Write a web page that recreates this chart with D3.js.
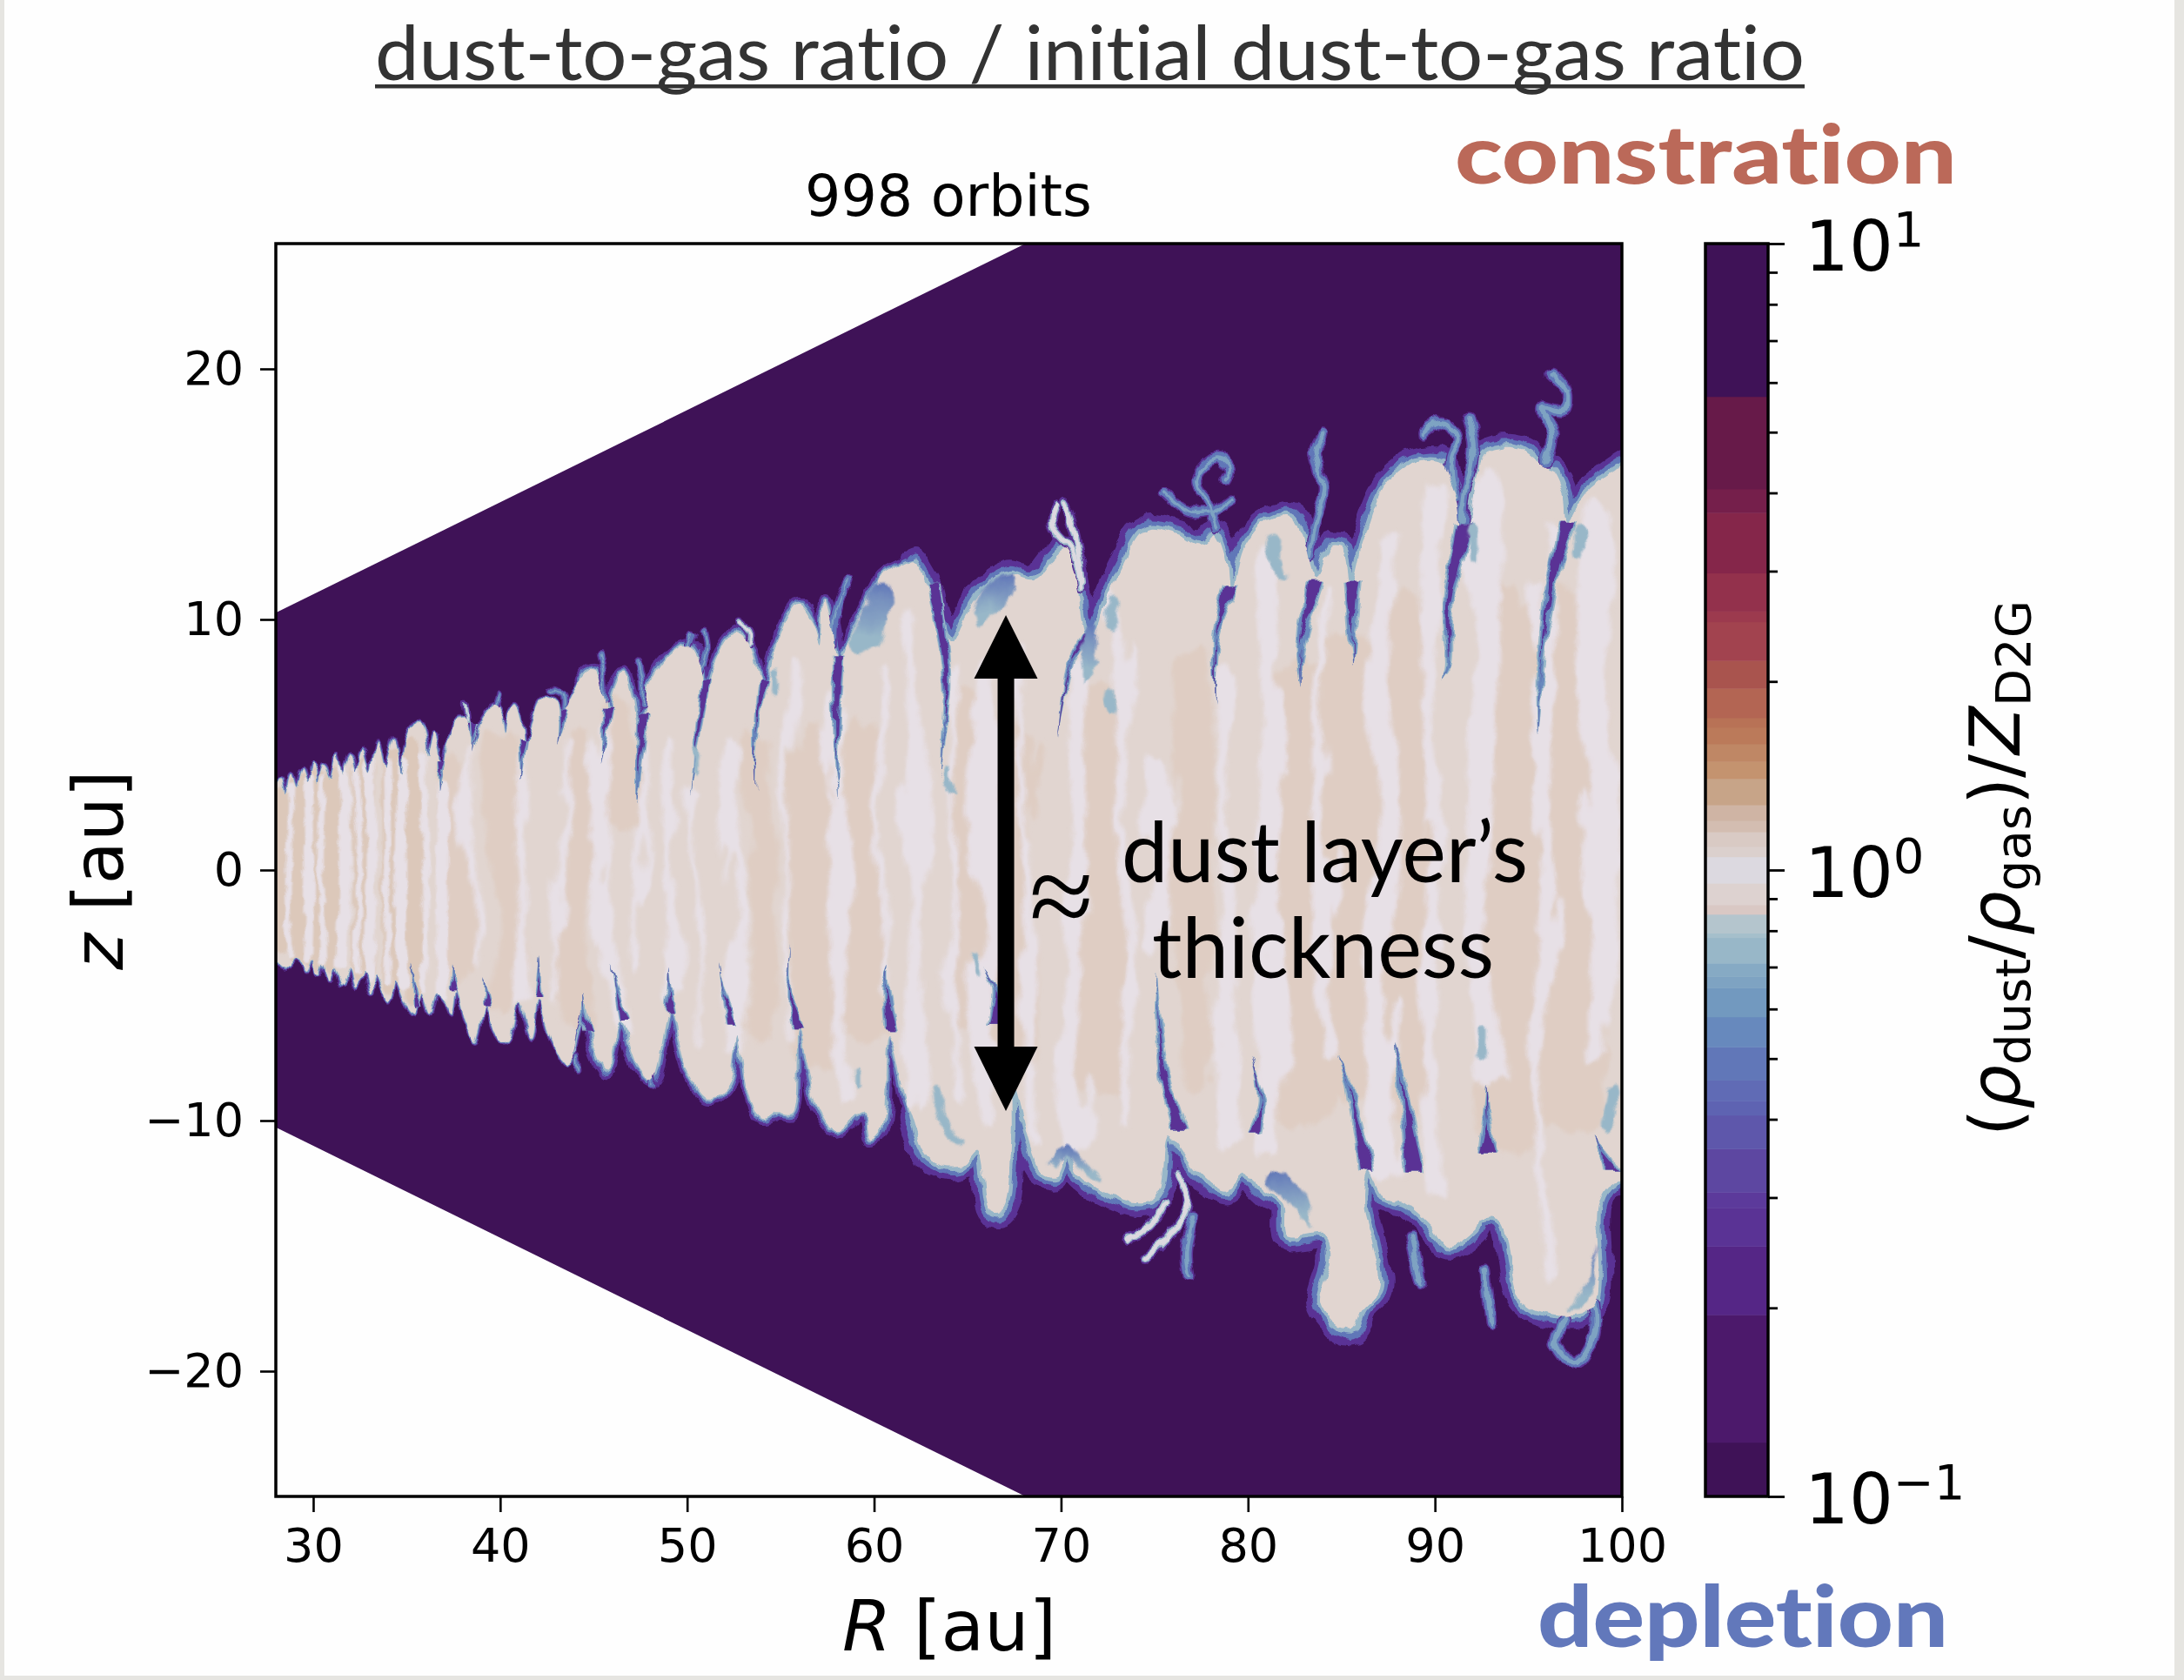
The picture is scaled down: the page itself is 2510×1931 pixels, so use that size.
<!DOCTYPE html>
<html>
<head>
<meta charset="utf-8">
<script src="https://cdnjs.cloudflare.com/ajax/libs/d3/7.8.5/d3.min.js"></script>
<style>
  html, body { margin: 0; padding: 0; background: #e6e5e1; }
  svg { display: block; }
  .axis text { font-family: "DejaVu Sans"; fill: #000; }
</style>
</head>
<body>
<div class="chart"></div>
<script>
// ************************DATA************************************************

const xTicks = [30, 40, 50, 60, 70, 80, 90, 100]
const yTicks = [-20, -10, 0, 10, 20]
const cbarMajor = [0.1, 1, 10]
const cbarMinor = [0.2, 0.3, 0.4, 0.5, 0.6, 0.7, 0.8, 0.9, 2, 3, 4, 5, 6, 7, 8, 9]

// colorbar steps, value where each band starts going up from 0.1
const bandStarts = [0.1, 0.122, 0.195, 0.251, 0.289, 0.306, 0.359, 0.406, 0.428, 0.462, 0.522, 0.583, 0.649, 0.676, 0.71, 0.78, 0.793, 0.85, 0.88, 0.953, 1.05, 1.09, 1.15, 1.2, 1.27, 1.4, 1.49, 1.59, 1.69, 1.75, 1.95, 2.16, 2.49, 2.59, 2.98, 3.72, 4.06, 5.7]
const bandColors = ["#3f1257", "#4c196b", "#552686", "#5a3395", "#5c3a9b", "#5d47a1", "#5e57ab", "#5e63b2", "#606bb5", "#6177b8", "#6789bd", "#7299bf", "#7ea3c2", "#86aac4", "#98b7c8", "#a5bfcb", "#b4c5cd", "#d9c8c4", "#ddd2d0", "#dcd9e0", "#dbd0cd", "#d9cac4", "#d3bdb1", "#cfb4a4", "#c7a488", "#c4936f", "#bf8765", "#bb7a5a", "#b87256", "#b36553", "#a9544e", "#a2434f", "#9c3a4e", "#93314c", "#85264a", "#751f4b", "#671a49", "#3f1257"]

// outline of the simulated wedge [R, z]
const wedgeTop = [[28, 10.27], [68.1, 25], [100, 25]]
const wedgeBottom = [[28, -10.27], [68.1, -25], [100, -25]]

// top edge of the dust layer, left to right [R, z]
const upperEdge = [[27,3.5],[28.05,3.5],[28.3,3.65],[28.5,3.0],[28.8,3.85],[29.1,3.3],[29.4,4.0],[29.7,3.4],[30,4.2],[30.2,3.5],[30.5,4.2],[30.9,3.6],[31.25,4.55],[31.6,3.7],[32,4.6],[32.25,3.8],[32.6,4.8],[33,3.9],[33.45,5.1],[33.85,4.0],[34.35,5.3],[34.7,3.8],[35.05,5.3],[35.65,5.95],[36,5.2],[36.1,4.6],[36.47,5.45],[36.7,4.8],[36.85,3.4],[37.2,4.9],[37.7,5.9],[38.1,6.0],[38.55,5.0],[39,6.0],[39.6,6.6],[40,6.4],[40.3,5.5],[40.55,6.3],[40.8,6.6],[41.1,6.0],[41.35,4.7],[41.7,5.9],[42.4,6.9],[43,6.7],[43.25,5.5],[43.7,6.7],[44.4,7.6],[45,8.0],[45.5,7.1],[45.8,5.9],[46.1,7.2],[46.6,7.9],[47,7.2],[47.5,5.6],[48,7.3],[48.9,8.4],[50,8.95],[50.6,8.4],[50.9,6.8],[51.4,8],[52.1,9.1],[52.7,9.6],[53.4,8.8],[54.1,7.2],[54.6,8.5],[55.5,10.2],[56,10.6],[56.7,9.9],[57.15,9.0],[57.35,10.7],[57.7,9.9],[58.15,8.4],[58.6,9.1],[59.5,10.4],[60.4,11.7],[61.3,12.1],[62.15,12.3],[62.9,11.3],[63.4,9.9],[64.2,9.1],[64.8,9.9],[65.9,11.2],[67.2,11.8],[68.5,11.6],[69.5,12.4],[70.2,12.8],[70.9,11.2],[71.1,9.9],[71.5,9.1],[72.25,10.4],[73.26,12.2],[74.5,13.6],[76.3,13.4],[77.55,13],[78.2,13.4],[78.8,12.5],[79.1,10.8],[79.8,12.9],[81.1,14.0],[82.35,14.1],[83.1,12.9],[83.6,11.6],[84.4,12.9],[85.1,12.8],[85.5,11.3],[86.1,12.9],[87.4,15.4],[89.0,16.3],[90.3,16.3],[90.8,15.5],[91.1,14.85],[91.5,13.3],[91.9,14.0],[92.7,16.6],[94.5,16.8],[95.7,16.2],[96.3,15.9],[96.9,14.9],[97.1,13.9],[98,15],[99.5,15.9],[101,16.6]]

// bottom edge of the dust layer, left to right [R, z]
const lowerEdge = [[27,-3.6],[28.05,-3.6],[28.3,-3.8],[28.67,-3.85],[29.1,-3.5],[29.7,-4.15],[30,-3.6],[30.3,-4.15],[30.55,-3.7],[30.9,-4.4],[31.2,-3.9],[31.6,-4.6],[31.95,-4],[32.3,-4.66],[32.7,-4.05],[33.1,-4.9],[33.4,-4.2],[34,-5.2],[34.35,-4.4],[34.9,-5.3],[35.4,-5.7],[35.8,-4.9],[36.2,-5.8],[36.6,-4.95],[37,-5.2],[37.4,-5.75],[37.66,-4.8],[38.2,-6.1],[38.7,-6.8],[39.3,-5.4],[39.8,-6.4],[40.4,-6.9],[41,-5.3],[41.6,-6.8],[42,-5.2],[42.8,-6.9],[43.6,-7.8],[44.56,-5.3],[45.1,-7.2],[45.75,-8],[46.4,-6],[47.2,-7.6],[48.1,-8.4],[49.1,-5.6],[50,-8],[51.2,-9.1],[52.2,-8.6],[52.7,-6.6],[53.3,-8.9],[54.1,-9.96],[54.85,-9.7],[55.6,-9.7],[55.95,-6.4],[57.03,-9.6],[57.96,-10.42],[59.36,-9.7],[59.8,-10.8],[60.4,-10.4],[60.85,-6.6],[62,-9.9],[62.93,-11.5],[64.63,-11.8],[65.57,-11.2],[66.2,-13.6],[66.7,-13.7],[67.1,-13.2],[67.35,-10.6],[67.45,-8.6],[68.83,-11.9],[69.76,-12.2],[70.4,-11.3],[71,-12.2],[72.25,-12.8],[74,-13.3],[74.8,-13.2],[75.4,-12.6],[75.79,-10.6],[77.3,-12],[78.8,-12.8],[79.8,-12.2],[80.84,-12.8],[81.85,-13.3],[82.1,-14.6],[84.12,-14.6],[84.37,-15.55],[83.87,-17.3],[85,-18.3],[85.64,-18.34],[86.14,-17.54],[87.02,-16.74],[86.65,-14.88],[86.14,-13.3],[86.4,-12],[87.3,-13.1],[88.41,-13.3],[89.7,-14.1],[90.7,-15],[92.2,-14.35],[92.45,-13.95],[93.46,-14.0],[94.7,-17.27],[97,-17.8],[98.5,-17.4],[98.77,-13.3],[99.5,-12.5],[101,-12.5]]

// thin depleted fingers, root on the edge to tip inside the layer [R, z]
const fingers = [
  [[36.83,4.3],[36.75,3.6],[36.7,3.1]],
  [[38.6,5.9],[38.5,5.3],[38.4,4.7]],
  [[41.2,5.2],[41.15,4.4],[41.1,3.65]],
  [[43.4,6.3],[43.25,5.6],[43.1,5]],
  [[45.75,6.4],[45.6,5.3],[45.4,4.3]],
  [[47.65,6.2],[47.4,3.65],[47.3,2.7]],
  [[51,7.6],[50.6,5.5],[50.4,4.2],[50.15,3]],
  [[54.07,7.6],[53.7,5.5],[53.7,3.1]],
  [[58.1,8.56],[58,6.2],[58,4.2],[58.1,2.85]],
  [[63.2,11.5],[63.9,7.5],[63.7,5.55],[63.5,3.7]],
  [[71.5,9.4],[70.5,8.2],[69.85,5.3]],
  [[79.07,11.3],[78.3,9.3],[78.3,6.6]],
  [[83.6,11.5],[82.85,8.9],[82.85,7.4]],
  [[85.6,11.5],[85.6,9.5],[85.6,8.2]],
  [[91.6,13.8],[90.7,10.5],[90.7,8.1],[90.3,7.5]],
  [[97.1,13.9],[96.2,11.3],[95.6,7.5],[95.5,5.4]],
  [[35.6,-5.5],[35.4,-4.5],[35.3,-3.66]],
  [[37.5,-4.8],[37.45,-4.2],[37.4,-3.8]],
  [[39.3,-5.4],[39.2,-4.8],[39.1,-4.2]],
  [[42.06,-5.1],[42.06,-4.2],[42.06,-3.4]],
  [[44.7,-6.45],[44.5,-5.6],[44.4,-4.9]],
  [[46.7,-6],[46.3,-4.8],[46,-3.7]],
  [[49.1,-5.7],[49.05,-4.7],[49,-3.8]],
  [[52.4,-6.2],[52,-4.9],[51.7,-3.65]],
  [[55.9,-6.4],[55.6,-5.2],[55.5,-4.4],[55.6,-2.9]],
  [[60.9,-6.4],[60.6,-4.5],[60.75,-3.8]],
  [[66.5,-6.1],[66.5,-4.75],[65.9,-3.9]],
  [[76.3,-10.4],[75.5,-8],[75.15,-5.3],[75.15,-4.1]],
  [[80.3,-10.5],[80.7,-9.2],[80.1,-7.4]],
  [[86.4,-12],[85.4,-8.6],[84.75,-7.4]],
  [[88.9,-12],[88.2,-8.2],[87.9,-6.9]],
  [[92.8,-11.3],[92.75,-10],[92.7,-8.6]],
  [[99.5,-12],[99,-11.2],[98.5,-10.6]]
]

// wisps sticking out of the layer into the depleted gas [R, z]
const blueWisps = [
  [[58.6,11.6],[58.2,10.95],[57.9,10.15],[57.8,9]],
  [[50.86,9.5],[51,8.7],[50.6,7.9]],
  [[50.3,9.4],[50,8.7]],
  [[45.3,8.56],[45.5,7.9],[45.6,6.8]],
  [[47.4,8.3],[47.65,7.5],[47.6,6.6]],
  [[42.65,7.2],[43.4,7],[43.4,6]],
  [[39.9,6.97],[39.7,6.5]],
  [[75.5,15.1],[76.8,14.3],[77.8,14.3]],
  [[78.8,15.6],[79,16],[78.3,16.45],[77.3,15.65],[77.9,14.45],[78.3,13.65]],
  [[79,14.8],[78.05,14.3]],
  [[84,17.4],[83.6,16.7],[83.85,15.9],[84.1,15.25],[83.6,13.9],[83.3,12.5]],
  [[89.3,17.4],[90.4,17.9],[91.2,17.25],[90.8,16.3],[91.07,14.85]],
  [[91.8,18],[92.1,16.85],[91.6,15.1],[91.45,13.9]],
  [[96.25,19.8],[97.1,19],[96.85,18.3],[95.75,18.4],[96.25,17.4],[96,16.3]],
  [[77.05,-13.8],[76.67,-15.3],[76.8,-16.2]],
  [[88.7,-14.6],[89.2,-16.5]],
  [[92.7,-15.95],[93,-18.1]],
  [[44.1,-7.4],[44.2,-8]],
  [[48.1,-7.9],[48.1,-8.6]],
  [[96.5,-18.9],[97.5,-19.7],[98.5,-18.6],[98.5,-17.3]],
  [[96.4,-18.9],[96.9,-17.9]]
]
const paleWisps = [
  [[52.76,9.96],[53.35,9.6],[53.35,8.96]],
  [[38.14,6.57],[38.25,5.9]],
  [[69.73,14.58],[69.5,13.8],[70.7,12.6],[71.1,11.26]],
  [[70.2,14.7],[70.75,13.4],[71.2,11.5]],
  [[76.3,-12.2],[76.8,-13.3],[75.8,-14.6],[74.5,-15.55]],
  [[75.5,-13.3],[74.8,-14.1],[73.5,-14.75]]
]

// pale blue blobs inside the layer [R, z]
const blobs = [
  [[72.7,10.8],[72.7,9.7]],
  [[72.6,7],[72.8,6.4]],
  [[81.3,13],[81.9,11.8]],
  [[92,13.6],[92,12.4]],
  [[97.9,13.4],[97.6,12.6]],
  [[92.6,-6.4],[92.6,-7.4]],
  [[99.6,-8.8],[99.2,-10.2]],
  [[64,4],[64,3.2]],
  [[50.5,4.8],[50.5,3.9]],
  [[54.7,8],[54.6,7.1]],
  [[63.4,-8.8],[63.8,-10.1],[64.4,-10.8]],
  [[59.2,-8.2],[59.2,-8.6]],
  [[65.4,-3.5],[65.6,-4.2]]
]

// bluish areas on the edge of the big lobes, polygons [R, z]
const edgePatches = [
  [[58.6,9.0],[59.5,10.3],[60.4,11.5],[60.9,11.2],[60.6,9.6],[60.2,8.9],[59.3,8.6]],
  [[65.3,10.3],[65.9,11.2],[67.2,11.8],[67.3,11.2],[66.4,10.1],[65.6,9.7]],
  [[71.2,9.5],[71.8,9.9],[72,8.8],[71.6,7.6],[71,7.5]],
  [[83.3,-14.3],[82.3,-13.4],[81,-12.5],[81.4,-12],[82.4,-12.4],[83.4,-13.4]],
  [[69.3,-11.7],[70.4,-10.9],[71.2,-11.6],[72.2,-12.4],[71,-12],[70.4,-11.4],[69.8,-12]],
  [[97,-17.6],[98.4,-17],[98.6,-15],[98.2,-16.4],[97.4,-17]]
]

// lighter lavender streaks, top to bottom [R, z]
const paleStreaks = [
  [[28.8,3.4],[28.7,0],[28.8,-3.4]], [[29.7,3.6],[29.8,0],[29.7,-3.6]], [[30.5,3.7],[30.4,0],[30.55,-3.6]],
  [[31.6,3.9],[31.7,0],[31.5,-3.8]], [[32.3,4],[32.4,0],[32.3,-4]], [[33,4.2],[33.1,0],[33,-4.2]],
  [[33.9,4.3],[34,0],[33.9,-4.4]], [[34.8,4.4],[34.7,0],[34.8,-4.6]], [[35.9,4.6],[36,0],[35.9,-4.8]], [[36.9,3.4],[36.9,0],[36.9,-5]],
  [[38.5,5],[38.4,2],[38.6,-1],[38.4,-4]], [[41.2,5],[41,2],[41.3,-1],[41.1,-5]], [[43.3,5],[43,1],[43.3,-2],[43,-5]],
  [[45.6,6],[45.3,3],[45.6,-1],[46,-4],[46.4,-6]], [[47.5,5],[47.2,2],[47.6,-1],[47.4,-4]], [[49.1,5],[49,1],[49.2,-2],[49,-5]],
  [[50.5,3],[50.3,0],[50.6,-3],[50.8,-7]], [[52.6,5],[52.2,2],[52.5,-1],[52.3,-4],[52.6,-7]], [[55.6,8],[55.3,4],[55.7,0],[55.4,-3],[56,-7]],
  [[58,7],[57.7,3],[58.2,-1],[57.9,-4],[58.4,-9]], [[60.7,8],[60.3,3],[60.7,-1],[60.5,-5]], [[62.2,10],[62,5],[62.4,0],[62,-5],[62.2,-9]],
  [[64.2,8],[64,3],[64.4,-1],[64.2,-5],[64.6,-9]], [[66.2,8],[65.9,3],[66.2,-2],[65.9,-5],[66.4,-10]], [[68.3,9],[68,4],[68.4,-1],[68,-6],[68.6,-11]],
  [[71,8],[70.6,4],[71,0],[70.6,-5],[71,-11]], [[73,11],[73.4,5],[73.1,0],[73.5,-5],[73.4,-10]], [[75.2,4],[75.5,0],[75,-3]],
  [[79,8],[78.6,3],[79,-2],[78.6,-6],[79,-11]], [[81,12],[81.3,5],[81,0],[81.4,-5],[81,-11]], [[84.3,11],[84,4],[84.4,-2],[84,-7]],
  [[87.4,13],[87,6],[87.4,0],[87,-6],[87.4,-12]], [[90,15],[89.6,8],[90,2],[89.6,-4],[90,-13]], [[92.5,15],[92.8,8],[92.4,0],[92.8,-8]],
  [[96,13],[95.6,5],[96,-2],[95.6,-8],[96,-16]], [[99,14],[98.6,6],[99,0],[98.6,-7]]
]

// warmer tan streaks in the lobe cores [R, z]
const warmStreaks = [
  [[28.3,3],[28.3,0],[28.3,-3]], [[29.25,3.4],[29.2,0],[29.25,-3.4]], [[30.1,3.6],[30.1,0],[30.1,-3.6]], [[31.1,3.8],[31.1,0],[31.1,-3.8]],
  [[32.7,4],[32.7,0],[32.7,-4]], [[34.3,4.4],[34.35,0],[34.3,-4.4]], [[35.3,5],[35.3,0],[35.3,-5]],
  [[37.6,4],[37.8,0],[37.6,-4]], [[40,5],[40.2,0],[40,-5]], [[41,0],[41.1,-2],[41.2,-3.8]], [[44.1,5],[44.2,0],[44.3,-6]],
  [[46.2,6.4],[46.3,4.5],[46.5,2]], [[53.8,5],[54,0],[53.8,-6]], [[56.8,5],[57,0],[57,-7]], [[59.5,5],[59.3,0],[59.6,-6]],
  [[65.1,7],[65.2,0],[65,-6]], [[67.5,5],[67.2,0],[67.4,-7]], [[72,6],[72,0],[72,-8]], [[77,8],[77,0],[77.2,-8]],
  [[83,7],[83,0],[83,-9]], [[85.8,8],[86,0],[85.7,-8]], [[88.5,10],[88.6,0],[88.5,-9]], [[94,10],[94.2,0],[94,-10]], [[97.5,10],[97.5,0],[97.5,-9]]
]

// the double arrow: R, top z, bottom z
const arrowR = 67.05
const arrowZ = [10.17, -9.62]

// ************************SETUP*************************

const width = 2510
const height = 1931

const xScale = d3.scaleLinear().domain([28, 100]).range([317, 1864])
const yScale = d3.scaleLinear().domain([-25, 25]).range([1720, 280])
const cScale = d3.scaleLog().domain([0.1, 10]).range([1720, 280])

// same steps as the colorbar, used for the field too
const fieldColor = d3.scaleThreshold().domain(bandStarts.slice(1)).range(bandColors)

const smooth = d3.line()
  .x((d) => xScale(d[0]))
  .y((d) => yScale(d[1]))
  .curve(d3.curveCatmullRom.alpha(0.5))
const straight = d3.line()
  .x((d) => xScale(d[0]))
  .y((d) => yScale(d[1]))

const svg = d3.select(".chart")
  .append("svg")
  .attr("width", width)
  .attr("height", height)

// white slide on the grey page
svg.append("rect").attr("x", 5).attr("y", 0)
  .attr("width", 2494).attr("height", 1926).attr("fill", "#fefefe")

const defs = svg.append("defs")
defs.append("clipPath").attr("id", "plotClip")
  .append("rect").attr("x", xScale(28)).attr("y", yScale(25))
  .attr("width", xScale(100) - xScale(28)).attr("height", yScale(-25) - yScale(25))
const layerOutline = upperEdge.concat(lowerEdge.slice().reverse())
defs.append("clipPath").attr("id", "layerClip")
  .append("path").attr("d", smooth(layerOutline) + "Z")

// wavy look of the flow, stretched along z
const wavy = (id, freq, amount, blur) => {
  const f = defs.append("filter").attr("id", id)
    .attr("filterUnits", "userSpaceOnUse")
    .attr("x", 250).attr("y", 200).attr("width", 1700).attr("height", 1600)
  f.append("feTurbulence").attr("type", "fractalNoise")
    .attr("baseFrequency", freq).attr("numOctaves", 3).attr("seed", 7).attr("result", "n")
  f.append("feDisplacementMap").attr("in", "SourceGraphic").attr("in2", "n")
    .attr("scale", amount).attr("xChannelSelector", "R").attr("yChannelSelector", "G")
    .attr("result", "d")
  f.append("feGaussianBlur").attr("in", "d").attr("stdDeviation", blur)
}
wavy("flow", "0.03 0.006", 46, 2.2)
wavy("flowLeft", "0.03 0.01", 7, 1.2)
wavy("edge", "0.05 0.03", 12, 0.6)
wavy("blobby", "0.04 0.03", 14, 1)

const patchGrad = defs.append("linearGradient").attr("id", "patchGrad")
  .attr("x1", 0).attr("y1", 0).attr("x2", 0).attr("y2", 1)
patchGrad.append("stop").attr("offset", 0).attr("stop-color", fieldColor(0.5))
patchGrad.append("stop").attr("offset", 0.75).attr("stop-color", fieldColor(0.75))

// ************************FIELD*************************

const plot = svg.append("g").attr("clip-path", "url(#plotClip)")

// depleted gas fills the wedge
plot.append("path")
  .attr("d", straight(wedgeTop.concat(wedgeBottom.slice().reverse())) + "Z")
  .attr("fill", fieldColor(0.11))

const field = plot.append("g").attr("filter", "url(#edge)")

// halo of the edge, three colormap steps, getting wider with R
const haloZones = [[26, 45, 0.14], [44, 63, 0.36], [62, 102, 0.72]]
const haloLevels = [[0.27, 44], [0.5, 26], [0.75, 12]]
haloLevels.forEach(([value, w]) => {
  haloZones.forEach(([r0, r1, k]) => {
    [upperEdge, lowerEdge].forEach((edge) => {
      field.append("path")
        .attr("d", smooth(edge.filter((d) => d[0] >= r0 && d[0] <= r1)))
        .attr("fill", "none")
        .attr("stroke", fieldColor(value))
        .attr("stroke-width", w * k)
        .attr("stroke-linejoin", "round")
        .attr("stroke-linecap", "round")
    })
  })
})

// wisps under and over the layer
const wispWidth = (line) => 1 + line[0][0] / 9
const drawWisps = (parent, lines, value, extra) => {
  lines.forEach((line) => {
    parent.append("path")
      .attr("d", smooth(line))
      .attr("fill", "none")
      .attr("stroke", fieldColor(value))
      .attr("stroke-width", Math.max(1.5, wispWidth(line) + extra))
      .attr("stroke-linecap", "round")
      .attr("stroke-linejoin", "round")
  })
}
drawWisps(field, blueWisps.concat(paleWisps), 0.27, 3)
drawWisps(field, blueWisps, 0.5, 0)
drawWisps(field, blueWisps, 0.66, -6)
drawWisps(field, paleWisps, 0.75, -1)

// dust layer body
field.append("path")
  .attr("d", smooth(layerOutline) + "Z")
  .attr("fill", "#e1d5d0")

// streaks inside the layer, the narrow lobes on the left stay straighter
const textureClip = field.append("g").attr("clip-path", "url(#layerClip)")
const textureMain = textureClip.append("g").attr("filter", "url(#flow)")
const textureLeft = textureClip.append("g").attr("filter", "url(#flowLeft)")
const texturePart = (line) => line[0][0] < 37 ? textureLeft : textureMain

warmStreaks.forEach((line, i) => {
  texturePart(line).append("path")
    .attr("d", smooth(line))
    .attr("fill", "none")
    .attr("stroke", line[0][0] < 36 ? "#dcc8ba" : "#dfcdc3")
    .attr("stroke-width", line[0][0] * (i % 3 == 0 ? 0.55 : 0.85))
    .attr("stroke-linecap", "round")
})
paleStreaks.forEach((line, i) => {
  texturePart(line).append("path")
    .attr("d", smooth(line))
    .attr("fill", "none")
    .attr("stroke", "#e7e0e6")
    .attr("stroke-width", 2 + line[0][0] * (i % 2 == 0 ? 0.16 : 0.3))
    .attr("stroke-linecap", "round")
})

drawWisps(field, paleWisps, 1.0, -4)

// fingers: a wedge per level, the darker ones stop earlier
const fingerArea = (line, halfWidth, stop) => {
  const n = line.length - 1
  const w = (d, i) => halfWidth * d[0] / 100 * Math.max(0, 1 - i / (n * stop))
  return d3.area()
    .x0((d, i) => xScale(d[0]) - w(d, i))
    .x1((d, i) => xScale(d[0]) + w(d, i))
    .y((d) => yScale(d[1]))
    .curve(d3.curveCatmullRom.alpha(0.5))(line)
}
const fingerLevels = [[0.75, 12, 1], [0.55, 10, 0.85], [0.27, 9, 0.5]]
fingerLevels.forEach(([value, halfWidth, stop]) => {
  field.append("g").selectAll("path")
    .data(fingers)
    .enter()
    .append("path")
    .attr("d", (d) => fingerArea(d, halfWidth, stop))
    .attr("fill", fieldColor(value))
})

// blobs and bluish patches
field.append("g").attr("filter", "url(#blobby)").selectAll("path")
  .data(blobs)
  .enter()
  .append("path")
  .attr("d", (d) => smooth(d))
  .attr("fill", "none")
  .attr("stroke", fieldColor(0.75))
  .attr("stroke-width", (d) => d[0][0] * 0.14)
  .attr("stroke-linecap", "round")
field.append("g").attr("filter", "url(#blobby)").selectAll("path")
  .data(edgePatches)
  .enter()
  .append("path")
  .attr("d", (d) => smooth(d) + "Z")
  .attr("fill", "url(#patchGrad)")

// ************************AXES*************************

const xAxis = d3.axisBottom(xScale)
  .tickValues(xTicks).tickSize(18).tickPadding(19).tickSizeOuter(0)
const gx = svg.append("g").attr("class", "axis")
  .attr("transform", "translate(0," + yScale(-25) + ")")
  .call(xAxis)
const yAxis = d3.axisLeft(yScale)
  .tickValues(yTicks).tickSize(18).tickPadding(19).tickSizeOuter(0)
const gy = svg.append("g").attr("class", "axis")
  .attr("transform", "translate(" + xScale(28) + ",0)")
  .call(yAxis)
;[gx, gy].forEach((g) => {
  g.select(".domain").remove()
  g.selectAll("line").attr("stroke", "#000").attr("stroke-width", 2.6)
  g.selectAll("text").attr("font-size", 54)
})

svg.append("rect")
  .attr("x", xScale(28)).attr("y", yScale(25))
  .attr("width", xScale(100) - xScale(28)).attr("height", yScale(-25) - yScale(25))
  .attr("fill", "none").attr("stroke", "#000").attr("stroke-width", 3.5)

// plain matplotlib labels
const plainText = (x, y, size) => svg.append("text")
  .attr("x", x).attr("y", y)
  .attr("font-family", "DejaVu Sans").attr("font-size", size)
  .attr("text-anchor", "middle").attr("fill", "#000")

plainText(1090, 248, 65).text("998 orbits")

const xLabel = plainText(1091, 1897, 81)
xLabel.append("tspan").attr("font-style", "italic").text("R")
xLabel.append("tspan").text(" [au]")

const yLabel = plainText(0, 0, 80)
  .attr("transform", "translate(141,1000) rotate(-90)")
yLabel.append("tspan").attr("font-style", "italic").text("z")
yLabel.append("tspan").text(" [au]")

// ************************COLORBAR*************************

const cbarX = 1960
const cbarWidth = 72
const bandEnds = bandStarts.slice(1).concat([10])

svg.append("g").selectAll("rect")
  .data(bandStarts)
  .enter()
  .append("rect")
  .attr("x", cbarX)
  .attr("y", (d, i) => cScale(bandEnds[i]))
  .attr("width", cbarWidth)
  .attr("height", (d, i) => cScale(d) - cScale(bandEnds[i]) + 0.5)
  .attr("fill", (d, i) => bandColors[i])

svg.append("rect")
  .attr("x", cbarX).attr("y", cScale(10))
  .attr("width", cbarWidth).attr("height", cScale(0.1) - cScale(10))
  .attr("fill", "none").attr("stroke", "#000").attr("stroke-width", 3.5)

const cMinor = svg.append("g").attr("class", "axis")
  .attr("transform", "translate(" + (cbarX + cbarWidth) + ",0)")
  .call(d3.axisRight(cScale).tickValues(cbarMinor).tickSize(11).tickFormat("").tickSizeOuter(0))
const cMajor = svg.append("g").attr("class", "axis")
  .attr("transform", "translate(" + (cbarX + cbarWidth) + ",0)")
  .call(d3.axisRight(cScale).tickValues(cbarMajor).tickSize(19).tickFormat("").tickSizeOuter(0))
;[cMinor, cMajor].forEach((g) => {
  g.select(".domain").remove()
  g.selectAll("line").attr("stroke", "#000").attr("stroke-width", 2.8)
})

// 10^k labels, exponent
svg.append("g").selectAll("text.pow")
  .data(cbarMajor)
  .enter()
  .append("text")
  .attr("class", "pow")
  .attr("x", 2074)
  .attr("y", (d) => cScale(d) + 31)
  .attr("font-family", "DejaVu Sans")
  .attr("font-size", 80)
  .attr("fill", "#000")
  .each(function (d) {
    const t = d3.select(this)
    t.append("tspan").text("10")
    const e = Math.round(Math.log10(d))
    t.append("tspan").attr("dy", -28).attr("font-size", 56)
      .text(e < 0 ? "\u2212" + (-e) : e)
  })

// colorbar label, rotated
const cLabel = plainText(0, 0, 80)
  .attr("transform", "translate(2321,998) rotate(-90)")
cLabel.append("tspan").text("(")
cLabel.append("tspan").attr("font-style", "italic").text("\u03c1")
cLabel.append("tspan").attr("font-size", 56).attr("dy", 12).text("dust")
cLabel.append("tspan").attr("dy", -12).text("/")
cLabel.append("tspan").attr("font-style", "italic").text("\u03c1")
cLabel.append("tspan").attr("font-size", 56).attr("dy", 12).text("gas")
cLabel.append("tspan").attr("dy", -12).text(")/")
cLabel.append("tspan").attr("font-style", "italic").text("Z")
cLabel.append("tspan").attr("font-size", 56).attr("dy", 12).text("D2G")

// ************************SLIDE ANNOTATIONS*************************

// double arrow
const ax = xScale(arrowR)
const yTop = yScale(arrowZ[0])
const yBot = yScale(arrowZ[1])
svg.append("rect").attr("x", ax - 9.5).attr("y", yTop + 60)
  .attr("width", 19).attr("height", yBot - yTop - 120).attr("fill", "#000")
svg.append("path")
  .attr("d", d3.line()([[ax, yTop], [ax + 36.5, yTop + 73], [ax - 36.5, yTop + 73]]) + "Z")
  .attr("fill", "#000")
svg.append("path")
  .attr("d", d3.line()([[ax, yBot], [ax + 36.5, yBot - 74], [ax - 36.5, yBot - 74]]) + "Z")
  .attr("fill", "#000")

const slideText = (x, y, size, color, weight, len) => svg.append("text")
  .attr("x", x).attr("y", y)
  .attr("font-family", "Lato")
  .attr("font-size", size)
  .attr("font-weight", weight)
  .attr("fill", color)
  .attr("textLength", len)
  .attr("lengthAdjust", "spacingAndGlyphs")
  .style("font-variant-ligatures", "none")

slideText(431, 92, 88, "#333333", 400, 1643).text("dust-to-gas ratio / initial dust-to-gas ratio")
svg.append("rect").attr("x", 431).attr("y", 97).attr("width", 1643).attr("height", 4.5).attr("fill", "#333333")

slideText(1672, 211, 93, "#bb6959", 900, 577).text("constration")
slideText(1767, 1893, 98, "#6278bb", 900, 472).text("depletion")

slideText(1289, 1014, 96, "#000", 400, 467).text("dust layer\u2019s")
slideText(1324, 1124, 96, "#000", 400, 393).text("thickness")

svg.append("text").attr("x", 1183).attr("y", 1075)
  .attr("font-family", "Liberation Serif").attr("font-size", 134)
  .attr("fill", "#000").text("\u2248")
</script>
</body>
</html>
